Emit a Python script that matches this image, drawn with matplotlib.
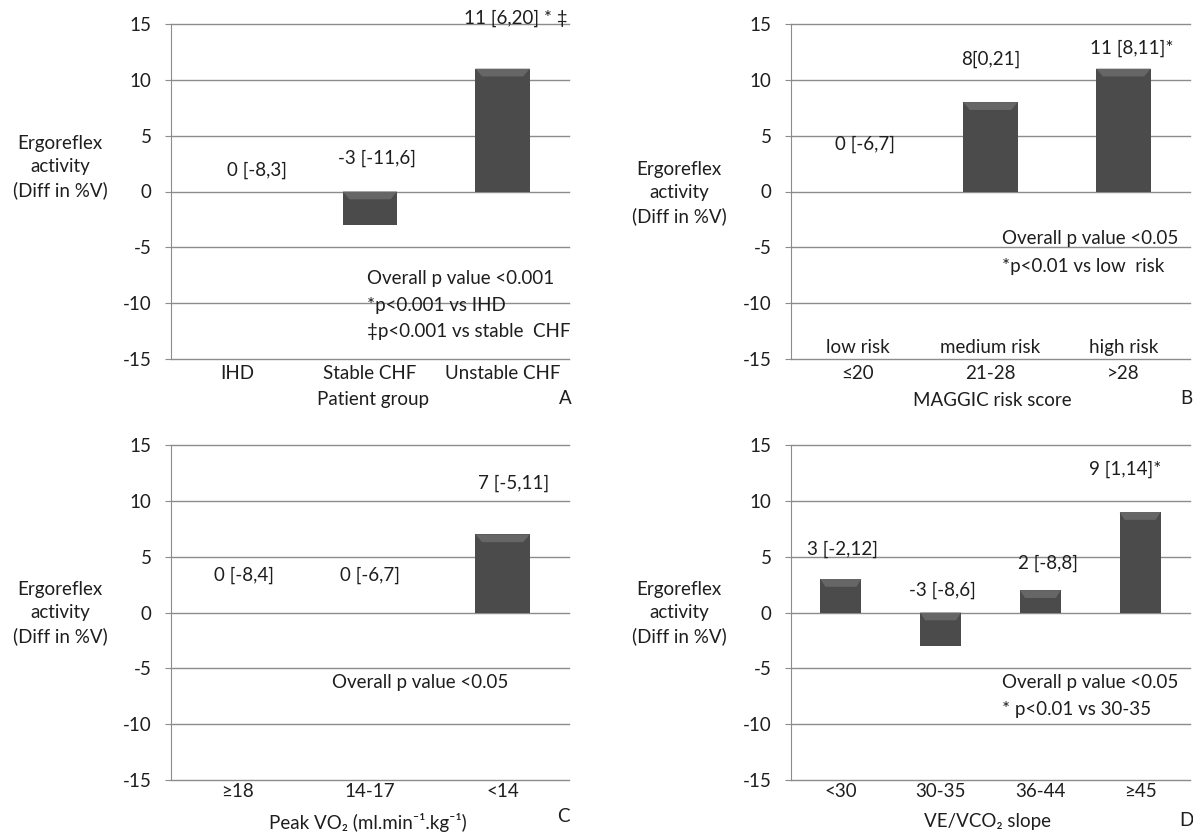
import numpy as np
import matplotlib
matplotlib.use('Agg')
import matplotlib.pyplot as plt
from matplotlib.patches import Polygon

plt.rcParams['font.family'] = ['Lato', 'DejaVu Sans']
plt.rcParams['axes.unicode_minus'] = False

# panel A - patient group
a_cats = ['IHD', 'Stable CHF', 'Unstable CHF']
a_vals = [0, -3, 11]
a_labels = ['0 [-8,3]', '-3 [-11,6]', '11 [6,20] * \u2021']
a_notes = ['Overall p value <0.001', '*p<0.001 vs IHD', '\u2021p<0.001 vs stable  CHF']

# panel B - MAGGIC risk score
b_risk = ['low risk', 'medium risk', 'high risk']
b_cats = ['\u226420', '21-28', '>28']
b_vals = [0, 8, 11]
b_labels = ['0 [-6,7]', '8[0,21]', '11 [8,11]*']
b_notes = ['Overall p value <0.05', '*p<0.01 vs low  risk']

# panel C - peak VO2
c_cats = ['\u226518', '14-17', '<14']
c_vals = [0, 0, 7]
c_labels = ['0 [-8,4]', '0 [-6,7]', '7 [-5,11]']
c_notes = ['Overall p value <0.05']

# panel D - VE/VCO2 slope
d_cats = ['<30', '30-35', '36-44', '\u226545']
d_vals = [3, -3, 2, 9]
d_labels = ['3 [-2,12]', '-3 [-8,6]', '2 [-8,8]', '9 [1,14]*']
d_notes = ['Overall p value <0.05', '* p<0.01 vs 30-35']

W, H = 1193, 834
TXT = '#1e1e1e'
FS = 13.5
fig = plt.figure(figsize=(W / 100, H / 100), dpi=100)


def px_axes(left, right, top, bottom):
    return fig.add_axes([left / W, 1 - bottom / H, (right - left) / W, (bottom - top) / H])


def ftext(x, y, s, **kw):
    fig.text(x / W, 1 - y / H, s, color=TXT, fontsize=FS, **kw)


def panel(rect, cats, vals, labels, lab_dx, lab_y, notes, note_x, note_y, note_ha, tickpad):
    ax = px_axes(*rect)
    x = np.arange(len(cats))
    bw = 0.41
    bars = ax.bar(x, vals, width=bw, color='#4b4b4b', edgecolor='none', zorder=3)
    # soft bevel along the top edge of each bar
    for b in bars:
        if b.get_height() == 0:
            continue
        x0, w = b.get_x(), b.get_width()
        top = max(b.get_y(), b.get_y() + b.get_height())
        d = 0.7
        ax.add_patch(Polygon([(x0, top), (x0 + w, top), (x0 + w - 0.05, top - d), (x0 + 0.05, top - d)],
                             closed=True, facecolor='#666666', edgecolor='none', zorder=4))
    ax.set_xlim(-0.5, len(cats) - 0.5)
    ax.set_ylim(-15, 15)
    ax.set_yticks(np.arange(-15, 16, 5))
    ax.yaxis.grid(True, color='#8c8c8c', linewidth=1.0, zorder=0)
    ax.set_axisbelow(True)
    for s in ['top', 'right', 'bottom']:
        ax.spines[s].set_visible(False)
    ax.spines['left'].set_color('#8c8c8c')
    ax.tick_params(axis='y', length=4, color='#8c8c8c', pad=10, labelsize=FS, labelcolor=TXT)
    ax.set_xticks(x)
    ax.set_xticklabels(cats, fontsize=FS, color=TXT)
    ax.tick_params(axis='x', length=0, pad=tickpad)
    for i, (lab, dx, ly) in enumerate(zip(labels, lab_dx, lab_y)):
        ax.text(i + dx, ly, lab, ha='center', va='center', fontsize=FS, color=TXT, zorder=5)
    for n, ny in zip(notes, note_y):
        ax.text(note_x, ny, n, ha=note_ha, va='center', fontsize=FS, color=TXT, zorder=5)
    for l in ax.get_ygridlines():
        l.set_clip_on(False)
    return ax


ylab = 'Ergoreflex\nactivity\n(Diff in %V)'

# A
panel((171, 569, 24, 359), a_cats, a_vals, a_labels, [0.15, 0.05, 0.1], [1.9, 3.0, 15.5],
      a_notes, 0.98, [-7.8, -10.2, -12.5], 'left', 4)
ftext(60, 167, ylab, ha='center', va='center', linespacing=1.4)
ftext(373, 399, 'Patient group', ha='center', va='center')
ftext(565, 399, 'A', ha='center', va='center')

# B
axb = panel((791, 1190, 24, 359), b_cats, b_vals, b_labels, [0.06, 0.0, 0.06], [4.2, 11.8, 12.8],
            b_notes, 1.09, [-4.2, -6.7], 'left', 4)
for i, r in enumerate(b_risk):
    axb.text(i, -14.0, r, ha='center', va='center', fontsize=FS, color=TXT)
ftext(679, 193, ylab, ha='center', va='center', linespacing=1.4)
ftext(992, 400, 'MAGGIC risk score', ha='center', va='center')
ftext(1186, 399, 'B', ha='center', va='center')

# C
panel((171, 569, 445, 780), c_cats, c_vals, c_labels, [0.05, 0.0, 0.08], [3.3, 3.3, 11.6],
      c_notes, 1.38, [-6.3], 'center', 2)
ftext(60, 613, ylab, ha='center', va='center', linespacing=1.4)
ftext(368, 822, 'Peak VO\u2082 (ml.min\u207b\u00b9.kg\u207b\u00b9)', ha='center', va='center')
ftext(563, 817, 'C', ha='center', va='center')

# D
panel((791, 1190, 445, 780), d_cats, d_vals, d_labels, [0.02, 0.02, 0.08, -0.15], [5.7, 2.0, 4.4, 12.8],
      d_notes, 1.62, [-6.3, -8.7], 'left', 2)
ftext(679, 613, ylab, ha='center', va='center', linespacing=1.4)
ftext(988, 822, 'VE/VCO\u2082 slope', ha='center', va='center')
ftext(1186, 820, 'D', ha='center', va='center')

fig.savefig('out.png', dpi=100, facecolor='white')
